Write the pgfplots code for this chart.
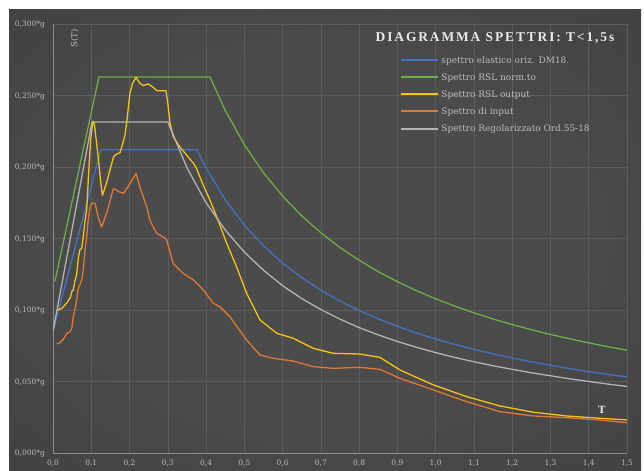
\documentclass[border=0pt]{standalone}
\usepackage{pgfplots}
\pgfplotsset{compat=1.18}
\usepackage{fontspec}
\setmainfont{DejaVu Serif}
\newfontfamily\titlefont[LetterSpace=14]{Liberation Serif}
\definecolor{cblue}{HTML}{4472C4}
\definecolor{cgreen}{HTML}{70AD47}
\definecolor{cyellow}{RGB}{246,196,16}
\definecolor{corange}{HTML}{E27836}
\definecolor{cgray}{HTML}{B4B4B4}
\definecolor{bgin}{HTML}{4B4B4B}
\definecolor{bgmid}{HTML}{3B3B3B}
\definecolor{bgout}{HTML}{242424}
\definecolor{gridc}{HTML}{5C5C5C}
\definecolor{txtc}{HTML}{BDBDBD}
\pgfdeclareradialshading{bgshade}{\pgfpoint{0bp}{0bp}}{color(0bp)=(bgin); color(18bp)=(bgin); color(50bp)=(bgmid); color(72bp)=(bgout)}
\begin{document}
\begin{tikzpicture}[x=1bp,y=1bp]
\useasboundingbox (0,0) rectangle (644,471);
\fill[white] (0,0) rectangle (644,471);
\shade[shading=bgshade] (9,0) rectangle (641,461);
\begin{axis}[
  at={(53bp,18bp)}, anchor=south west,
  width=574bp, height=429bp, scale only axis,
  xmin=0, xmax=1.5, ymin=0, ymax=0.3,
  xtick={0,0.1,0.2,0.3,0.4,0.5,0.6,0.7,0.8,0.9,1.0,1.1,1.2,1.3,1.4,1.5},
  xticklabels={{0,0},{0,1},{0,2},{0,3},{0,4},{0,5},{0,6},{0,7},{0,8},{0,9},{1,0},{1,1},{1,2},{1,3},{1,4},{1,5}},
  ytick={0,0.05,0.1,0.15,0.2,0.25,0.3},
  yticklabels={{0,000*g},{0,050*g},{0,100*g},{0,150*g},{0,200*g},{0,250*g},{0,300*g}},
  major tick length=0pt,
  xticklabel style={font=\fontsize{7.5}{9}\selectfont, text=txtc, inner sep=0pt, yshift=-7bp},
  yticklabel style={font=\fontsize{7.5}{9}\selectfont, text=txtc, inner sep=0pt, xshift=-8bp, yshift=-1bp},
  axis x line*=bottom, axis y line*=left,
  axis line style={draw=white!55!black, line width=0.8pt},
  grid=major, major grid style={draw=gridc, line width=0.6pt},
  legend cell align=left,
  legend style={draw=none, fill=none, at={(0.605,0.935)}, anchor=north west,
    font=\fontsize{9}{11}\selectfont, inner xsep=0pt,
    nodes={text height=7pt, text depth=2pt, inner sep=2pt}, row sep=4.2pt},
  legend image code/.code={\draw[#1, line width=2bp] (0bp,0.5bp) -- (37bp,0.5bp);},
  every axis plot/.append style={line width=1.3pt, line join=round},
]
\addplot[cblue] coordinates {(0,0.085) (0.125,0.212) (0.376,0.212) (0.4,0.1993) (0.45,0.1771) (0.5,0.1594) (0.55,0.1449) (0.6,0.1328) (0.65,0.1226) (0.7,0.1139) (0.75,0.1063) (0.8,0.0996) (0.85,0.0938) (0.9,0.0886) (0.95,0.0839) (1.0,0.0797) (1.05,0.0759) (1.1,0.0725) (1.15,0.0693) (1.2,0.0664) (1.25,0.0638) (1.3,0.0613) (1.35,0.0590) (1.4,0.0569) (1.45,0.0550) (1.5,0.0531)};
\addlegendentry{\textcolor{txtc}{spettro elastico oriz. DM18.}}
\addplot[cgreen] coordinates {(0.005,0.120) (0.12,0.263) (0.41,0.263) (0.45,0.2396) (0.5,0.2156) (0.55,0.1960) (0.6,0.1797) (0.65,0.1658) (0.7,0.1540) (0.75,0.1437) (0.8,0.1348) (0.85,0.1268) (0.9,0.1198) (0.95,0.1135) (1.0,0.1078) (1.05,0.1027) (1.1,0.0980) (1.15,0.0937) (1.2,0.0898) (1.25,0.0862) (1.3,0.0829) (1.35,0.0799) (1.4,0.0770) (1.45,0.0743) (1.5,0.0719)};
\addlegendentry{\textcolor{txtc}{Spettro RSL norm.to}}
\addplot[cyellow] coordinates {(0.011,0.100) (0.023,0.101) (0.036,0.105) (0.046,0.109) (0.049,0.113) (0.053,0.114) (0.057,0.120) (0.062,0.125) (0.066,0.136) (0.070,0.142) (0.075,0.143) (0.079,0.151) (0.083,0.161) (0.088,0.170) (0.093,0.195) (0.098,0.218) (0.104,0.232) (0.108,0.230) (0.116,0.212) (0.123,0.194) (0.129,0.180) (0.140,0.189) (0.158,0.207) (0.166,0.209) (0.175,0.210) (0.184,0.218) (0.188,0.222) (0.193,0.232) (0.197,0.242) (0.201,0.2515) (0.208,0.2585) (0.217,0.2627) (0.227,0.2585) (0.236,0.257) (0.249,0.258) (0.262,0.2557) (0.271,0.2533) (0.295,0.2533) (0.299,0.2468) (0.306,0.2305) (0.314,0.2213) (0.331,0.2142) (0.349,0.2084) (0.367,0.2026) (0.375,0.199) (0.393,0.187) (0.410,0.177) (0.428,0.165) (0.454,0.1466) (0.480,0.130) (0.506,0.1117) (0.541,0.093) (0.585,0.0837) (0.628,0.0802) (0.680,0.0732) (0.732,0.0697) (0.802,0.0692) (0.854,0.0669) (0.907,0.058) (0.994,0.0476) (1.081,0.0394) (1.168,0.0329) (1.255,0.0285) (1.342,0.0259) (1.429,0.0243) (1.5,0.0231)};
\addlegendentry{\textcolor{txtc}{Spettro RSL output}}
\addplot[corange] coordinates {(0.0096,0.0762) (0.018,0.0771) (0.027,0.0795) (0.036,0.0837) (0.044,0.0848) (0.049,0.0872) (0.053,0.0953) (0.057,0.100) (0.062,0.107) (0.066,0.115) (0.070,0.1175) (0.075,0.121) (0.079,0.128) (0.083,0.1397) (0.088,0.151) (0.092,0.163) (0.097,0.172) (0.101,0.1746) (0.110,0.1746) (0.118,0.165) (0.127,0.158) (0.140,0.1676) (0.158,0.185) (0.171,0.1828) (0.184,0.1816) (0.197,0.1865) (0.217,0.1956) (0.227,0.186) (0.245,0.172) (0.253,0.163) (0.262,0.158) (0.271,0.1536) (0.280,0.1524) (0.293,0.150) (0.297,0.149) (0.314,0.1326) (0.340,0.1256) (0.367,0.121) (0.393,0.114) (0.419,0.1047) (0.436,0.1023) (0.462,0.0953) (0.506,0.079) (0.541,0.0685) (0.576,0.0662) (0.628,0.0643) (0.680,0.0604) (0.732,0.0592) (0.802,0.0599) (0.854,0.0585) (0.907,0.0522) (0.994,0.0441) (1.081,0.0359) (1.168,0.0289) (1.255,0.0259) (1.342,0.0247) (1.429,0.0231) (1.5,0.0212)};
\addlegendentry{\textcolor{txtc}{Spettro di input}}
\addplot[cgray] coordinates {(0,0.085) (0.102,0.2315) (0.30,0.2315) (0.35,0.1995) (0.4,0.1750) (0.45,0.1560) (0.5,0.1405) (0.55,0.1278) (0.6,0.1170) (0.65,0.1080) (0.7,0.1003) (0.75,0.0936) (0.8,0.0877) (0.85,0.0826) (0.9,0.0780) (0.95,0.0739) (1.0,0.0702) (1.05,0.0668) (1.1,0.0638) (1.15,0.0610) (1.2,0.0585) (1.25,0.0561) (1.3,0.0540) (1.35,0.0519) (1.4,0.0500) (1.45,0.0482) (1.5,0.0465)};
\addlegendentry{\textcolor{txtc}{Spettro Regolarizzato Ord.55-18}}
\node[rotate=90, text=txtc, font=\fontsize{8.5}{10}\selectfont] at (axis cs:0.057,0.290) {S(T)};
\node[text=white!90!black, font=\bfseries\fontsize{10}{11}\selectfont] at (axis cs:1.434,0.030) {T};
\node[text=white!92!black, font=\titlefont\bfseries\fontsize{13.5}{15}\selectfont] at (axis cs:1.155,0.290) {DIAGRAMMA SPETTRI: T<1,5s};
\end{axis}
\end{tikzpicture}
\end{document}
